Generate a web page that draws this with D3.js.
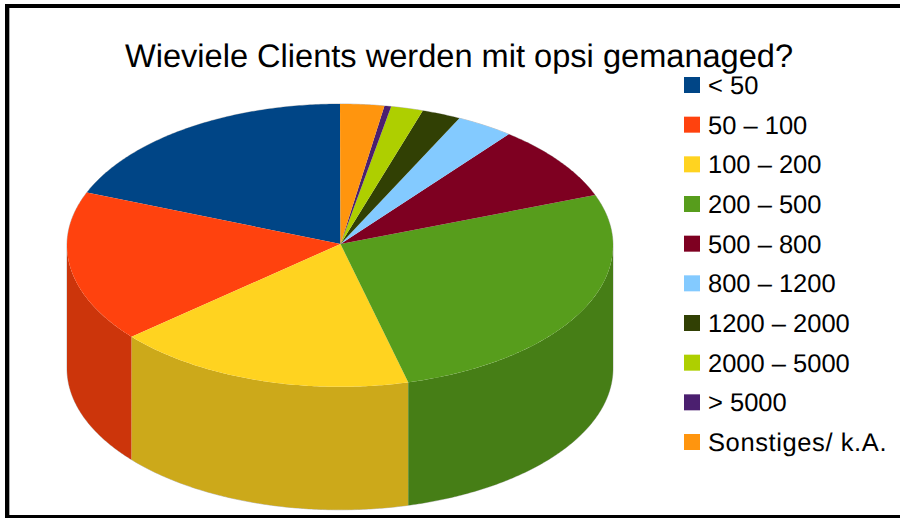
<!DOCTYPE html>
<html>
<head>
<meta charset="utf-8">
<style>html,body{margin:0;padding:0;background:#fff}svg{display:block}text{font-family:"Liberation Sans",Arial,sans-serif;fill:#000;text-rendering:geometricPrecision}</style>
<script src="https://cdn.jsdelivr.net/npm/d3@7"></script>
</head>
<body>
<script>
const titleText = "Wieviele Clients werden mit opsi gemanaged?";
const categories = ["< 50","50 – 100","100 – 200","200 – 500","500 – 800","800 – 1200","1200 – 2000","2000 – 5000","> 5000","Sonstiges/ k.A."];
const shares = [18.9,17.28,17.84,26.78,8.6,3.4,2.3,1.9,0.4,2.6];
const colors = ["#004586","#ff420e","#ffd320","#579d1c","#7e0021","#83caff","#314004","#aecf00","#4b1f6f","#ff950e"];

const W = 900, H = 518;
const cx = 340, cy = 245.4, rx = 273, ry = 141.4, depth = 123;
const apexX = 340.5, apexY = 244;
const svg = d3.select("body").append("svg").attr("width",W).attr("height",H);

// frame
svg.append("rect").attr("x",7).attr("y",6).attr("width",W+20).attr("height",511)
  .attr("fill","#fff").attr("stroke","#000").attr("stroke-width",4);
svg.append("line").attr("x1",9.5).attr("x2",9.5).attr("y1",8).attr("y2",515)
  .attr("stroke","#aaa").attr("stroke-width",1);

const pie = d3.pie().sort(null).value(d=>d).startAngle(0).endAngle(-2*Math.PI);
const arcs = pie(shares);

const px = a => cx + rx*Math.sin(a);
const py = a => cy - ry*Math.cos(a);
const line = d3.line();
const samples = (a0,a1) => {
  const n = Math.max(2,Math.ceil(Math.abs(a1-a0)/0.01));
  return d3.range(n+1).map(i => a0+(a1-a0)*i/n);
};

// silhouette hairline
const backRim = samples(Math.PI/2,-Math.PI/2).map(a=>[px(a),py(a)]);
const frontRim = samples(-Math.PI/2,-3*Math.PI/2).map(a=>[px(a),py(a)+depth]);
svg.append("path").attr("d",line(backRim.concat(frontRim))+"Z")
  .attr("fill","none").attr("stroke","#999").attr("stroke-width",0.6);

// side walls (front half of the rim only)
const wallLayer = svg.append("g");
arcs.forEach((d,i)=>{
  const hi = Math.min(d.startAngle,-Math.PI/2), lo = Math.max(d.endAngle,-3*Math.PI/2);
  if (hi<=lo) return;
  const s = samples(hi,lo);
  const pts = s.map(a=>[px(a),py(a)]).concat(s.slice().reverse().map(a=>[px(a),py(a)+depth]));
  const col = d3.rgb(colors[i]);
  wallLayer.append("path").attr("d",line(pts)+"Z")
    .attr("fill",d3.rgb(col.r*0.8,col.g*0.8,col.b*0.8));
});

// top face
const topLayer = svg.append("g");
arcs.forEach((d,i)=>{
  const pts = [[apexX,apexY]].concat(samples(d.startAngle,d.endAngle).map(a=>[px(a),py(a)]));
  topLayer.append("path").attr("d",line(pts)+"Z").attr("fill",colors[i]);
});

// title
svg.append("text").attr("x",459).attr("y",67).attr("text-anchor","middle")
  .attr("font-size",32.6).text(titleText);

// legend
const legendY = d3.scalePoint().domain(categories).range([85,442]);
const lg = svg.append("g").selectAll("g").data(categories).join("g")
  .attr("transform",d=>`translate(684,${legendY(d)})`);
lg.append("rect").attr("x",0).attr("y",-8).attr("width",16).attr("height",16)
  .attr("fill",(d,i)=>colors[i]);
lg.append("text").attr("x",24).attr("y",9).attr("font-size",25.5)
  .attr("letter-spacing",(d,i)=>i===categories.length-1?0.6:0).text(d=>d);
</script>
</body>
</html>
